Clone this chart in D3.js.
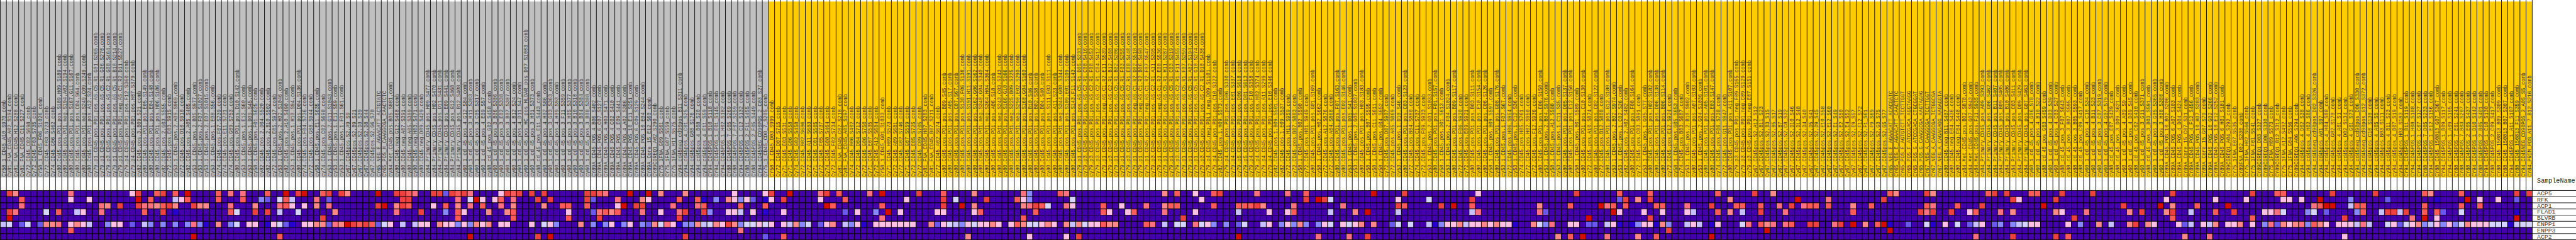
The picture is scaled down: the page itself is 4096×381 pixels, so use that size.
<!DOCTYPE html>
<html>
<head>
<meta charset="utf-8">
<style>
html,body{margin:0;padding:0;background:#fff;overflow:hidden}
svg{display:block}
text{font-family:"Liberation Mono",monospace}
</style>
<script src="https://cdn.jsdelivr.net/npm/d3@7/dist/d3.min.js"></script>
</head>
<body>
<svg id="chart"></svg>
<script>
const geneNames = ["ACP5","RFK","ACP1","FLAD1","BLVRB","ENPP1","ENPP3","ACP2"];
const heatCodes = ["0","1","2","3","4","5","6","7","8","9","a","b"];
const heatColors = ["#4500AD","#2700D1","#6B58EF","#8888FF","#C7C1FF","#D5D5FF","#FFC0E5","#FF8989","#FF7080","#FF5A5A","#EF4040","#D60C00"];
const classNames = ["gray","gold"];
const classColors = ["#C0C0C0","#FFCC00"];
const classSizes = [125,287];
const legendTitle = "SampleName";

const sampleNames = [
"CY58_1_CD45_A10_S970_comb","Cy81_FNA_CD45_A02_S194_comb","Cy81_FNA_CD45_H12_S288_comb","Cy81_FNA_CD45_C11_S227_comb","Cy72_CD45_C02_S698_comb","Cy72_CD45_F03_S735_comb","CY58_1_CD45_F06_S1026_comb","Cy72_CD45_E03_S723_comb","Cy74_CD45_G06_S462_comb",
"cy80.Cd45.pos.PD1.pos.S189.H09.S189.comb","cy80.Cd45.pos.Pd1.neg.S194.A02.S194.comb","cy80.Cd45.pos.PD1.pos.S167.G11.S167.comb","cy80.Cd45.pos.PD1.pos.C04.S64.comb","cy80.Cd45.pos.Pd1.neg.S249.C09.S249.comb","cy80.Cd45.pos.PD1.pos.A12.S24.comb",
"cy79.p1.CD45.pos.PD1.pos.AS.C5.R1.G01.S265.comb","cy79.p1.CD45.pos.PD1.pos.AS.C5.R1.G06.S270.comb","cy79.p3.CD45.pos.PD1.pos.AS.C2.R1.G08.S464.comb","cy79.p1.CD45.pos.PD1.pos.AS.C5.R1.B10.S214.comb","cy79.p1.CD45.pos.PD1.neg.AS.C1.R2.D11.S527.comb",
"cy79.p4.CD45.pos.PD1.pos.F12.S360.comb","cy79.p4.CD45.pos.PD1.pos.H07.S379.comb","cy82.CD45.pos.3.B09.S21.comb","cy80.CD45.pos.PD1.pos.E05.S149.comb","cy80.CD45.pos.PD1.pos.E04.S148.comb","cy80.CD45.pos.PD1.pos.H06.S186.comb","cy82.CD45.pos.2.G03.S555.comb","cy72.CD45.pos.E03.S915.comb","cy53.1.CD45.pos.2.A09.S969.comb","cy72.CD45.pos.D10.S910.comb","cy82.CD45.pos.2.A05.S485.comb",
"cy53.1.CD45.pos.2.B05.S977.comb","cy53.1.CD45.pos.2.F07.S1027.comb","cy53.1.CD45.pos.2.E07.S1015.comb","cy53.1.CD45.pos.1.E08.S56.comb","cy74.CD45.pos.F07.S739.comb","cy74.CD45.pos.E11.S731.comb","cy74.CD45.pos.G09.S753.comb","cy80.CD45.pos.PD1.pos.D10.S142.comb","cy53.1.CD45.pos.1.E12.S60.comb","cy53.1.CD45.pos.1.D09.S45.comb","cy58.1.CD45.pos.F01.S625.comb",
"cy82.CD45.pos.2.D04.S520.comb","cy82.CD45.pos.2.B10.S502.comb","cy72.CD45.pos.E05.S917.comb","cy53.1.CD45.pos.2.H02.S1046.comb","cy82.CD45.pos.2.A10.S490.comb","cy53.1.CD45.pos.1.H10.S94.comb","cy80.CD45.pos.PD1.pos.D04.S136.comb","cy74.CD45.pos.F04.S736.comb","cy72.CD45.pos.G08.S944.comb","cy58.1.CD45.pos.E11.S635.comb","cy74.CD45.pos.C02.S698.comb","cy53.1.CD45.pos.2.G11.S1043.comb","cy53.1.CD45.pos.1.E11.S59.comb","cy53.1.CD45.pos.1.F01.S61.comb",
"Cy67.CD45pos.S2.A9_S9","Cy67.CD45pos.S2.B9_S21","Cy67.CD45pos.S2.D3_S39","Cy67.CD45pos.S2.D8_S44","Cy67.CD45pos.S2.G6_S78","CY65_NEG_E_AGAACATT_ACTGTATC","CY65_POS_H_CAAGGCGA_CAACTCTC","cy84.Met.CD45.pos.B05.S881.comb","cy80.CD45.neg.G12.S468.comb","cy80.CD45.neg.A07.S391.comb","cy80.CD45.neg.A05.S389.comb","cy80.CD45.neg.H03.S471.comb","cy80.CD45.neg.D09.S429.comb",
"cy84_Primary_CD45_pos_H09_S477_comb","cy84_Primary_CD45_pos_H02_S470_comb","cy84_Primary_CD45_pos_D11_S431_comb","cy84_Primary_CD45_pos_E09_S441_comb","cy84_Primary_CD45_pos_G12_S468_comb","cy84_Primary_CD45_pos_B12_S408_comb",
"cy60_1_cd_45_pos_4_G12_S84_comb","cy60_1_cd_45_pos_3_H11_S383_comb","cy60_1_cd_45_pos_3_C05_S317_comb","cy60_1_cd_45_pos_4_E09_S57_comb","cy88_cd_45_pos_G02_S458_comb","cy60_1_cd_45_pos_3_B06_S306_comb","cy60_1_cd_45_pos_3_E02_S338_comb","cy60_1_cd_45_pos_3_B07_S307_comb","cy60_1_cd_45_pos_4_B12_S24_comb","cy60_1_cd_45_pos_4_D11_S47_comb","cy60_1_cd_45_pos_HC_pos_HLDAR_pos_D07_S1003_comb","cy60_1_cd_45_pos_3_H01_S373_comb","cy88_cd_45_pos_E11_S443_comb","cy60_1_cd_45_pos_4_H02_S86_comb","cy60_1_cd_45_pos_3_G03_S363_comb","cy60_1_cd_45_pos_4_H09_S93_comb","cy60_1_cd_45_pos_3_F11_S359_comb","cy60_1_cd_45_pos_3_H05_S377_comb","cy60_1_cd_45_pos_3_B10_S310_comb","cy60_1_cd_45_pos_3_B04_S304_comb","cy60_1_cd_45_pos_3_B08_S308_comb",
"CY89A_CD45_POS_4_B06_S402_comb","CY89A_CD45_POS_6_C07_S127_comb","CY89A_CD45_POS_4_H03_S471_comb","CY89A_CD45_POS_4_C02_S410_comb","CY89A_CD45_POS_4_E09_S441_comb","CY89A_CD45_POS_4_A02_S386_comb","CY89A_CD45_POS_10_E11_S251_comb","CY89A_CD45_POS_6_C09_S129_comb","CY89A_CD45_POS_10_E04_S244_comb","CY89A_Core_15_E12_S60_comb","CY89COREQ1_A02_S290_comb","CY75_1FNA_G09_S561_comb","CY75_1FNA_G07_S559_comb","CY75_1FNA_H11_S575_comb",
"cy94_cd45neg_cd90pos_B11_S311_comb","cy94_cd45pos_4_C01_S25_comb","cy94_cd45pos_G08_S176_comb","cy94_cd45pos_4_B08_S20_comb","cy94_cd45pos_4_E11_S59_comb","CY94_CD45POS_1_B10_S118_comb","CY94_CD45POS_1_E01_S145_comb","CY94_CD45POS_1_H02_S182_comb","CY88_CD45POS_7_G05_S269_comb","CY88_CD45POS_7_F07_S259_comb","CY94_CD45POS_1_C12_S132_comb","CY88_CD45POS_2_F11_S455_comb","CY88_CD45POS_2_F05_S449_comb","CY94_CD45NEG_CD90POS_2_C03_S27_comb","CY75_1_CD45_CD8_7_S205_comb",
"CY58_1_CD45_D03_S999_comb","Cy72_CD45_D07_S715_comb","Cy71_CD45_E03_S531_comb","Cy71_CD45_G06_S558_comb","Cy74_CD45_G02_S458_comb","Cy72_CD45_B02_S686_comb","Cy72_CD45_A11_S683_comb","Cy71_CD45_C01_S505_comb","Cy72_CD45_F05_S737_comb","Cy74_CD45_G08_S464_comb","Cy72_CD45_F02_S734_comb","Cy81_FNA_CD45_C02_S218_comb","Cy81_FNA_CD45_A05_S197_comb","Cy74_CD45_B06_S402_comb","Cy72_CD45_D04_S712_comb","Cy72_CD45_G06_S750_comb","Cy71_CD45_E07_S535_comb","Cy72_CD45_A12_S684_comb","CY58_1_CD45_G01_S1033_comb","Cy71_CD45_H09_S573_comb","Cy72_CD45_A09_S681_comb","Cy72_CD45_G02_S746_comb","Cy71_CD45_G07_S559_comb","Cy72_CD45_E05_S725_comb","Cy72_CD45_C09_S705_comb","Cy81_FNA_CD45_H07_S283_comb","Cy81_FNA_CD45_B07_S211_comb","Cy72_CD45_A02_S674_comb",
"cy80.Cd45.pos.PD1.pos.B09.S45.comb","cy80.Cd45.pos.PD1.pos.A05.S17.comb","cy80.Cd45.pos.PD1.pos.C07.S67.comb","cy80.Cd45.pos.PD1.pos.S138.F06.S138.comb","cy80.Cd45.pos.PD1.pos.S191.H11.S191.comb","cy80.Cd45.pos.PD1.pos.S162.G06.S162.comb","cy80.Cd45.pos.Pd1.neg.S340.G04.S340.comb","cy80.Cd45.pos.Pd1.neg.S364.H04.S364.comb","cy80.Cd45.pos.PD1.pos.A06.S18.comb","cy80.Cd45.pos.Pd1.neg.S243.C03.S243.comb","cy80.Cd45.pos.PD1.pos.S166.G10.S166.comb","cy80.Cd45.pos.Pd1.neg.S225.B09.S225.comb","cy80.Cd45.pos.Pd1.neg.S290.E02.S290.comb","cy80.Cd45.pos.PD1.pos.S160.G04.S160.comb","cy80.Cd45.pos.PD1.pos.B10.S46.comb","cy80.Cd45.pos.PD1.pos.B02.S38.comb","cy80.Cd45.pos.PD1.pos.B04.S40.comb","cy80.Cd45.pos.PD1.pos.S111.E03.S111.comb","cy80.Cd45.pos.PD1.pos.A11.S23.comb","cy80.Cd45.pos.Pd1.neg.S344.G08.S344.comb","cy80.Cd45.pos.PD1.pos.S109.E01.S109.comb","cy80.Cd45.pos.PD1.pos.S143.F11.S143.comb",
"cy79.p1.CD45.pos.PD1.pos.AS.C5.R1.D05.S233.comb","cy79.p3.CD45.pos.PD1.pos.AS.C2.R1.C08.S416.comb","cy79.p3.CD45.pos.PD1.pos.AS.C2.R1.F08.S452.comb","cy79.p3.CD45.pos.PD1.pos.AS.C2.R1.C04.S412.comb","cy79.p1.CD45.pos.PD1.neg.AS.C1.R2.E11.S539.comb","cy79.p3.CD45.pos.PD1.pos.AS.C2.R1.B12.S408.comb","cy79.p1.CD45.pos.PD1.pos.AS.C5.R1.B02.S206.comb","cy79.p1.CD45.pos.PD1.pos.AS.C5.R1.F03.S255.comb","cy79.p3.CD45.pos.PD1.pos.AS.C2.R1.E08.S440.comb","cy79.p1.CD45.pos.PD1.neg.AS.C1.R2.D02.S518.comb","cy79.p1.CD45.pos.PD1.neg.AS.C1.R2.B06.S498.comb","cy79.p1.CD45.pos.PD1.neg.AS.C1.R2.F07.S547.comb","cy79.p3.CD45.pos.PD1.pos.AS.C2.R1.A11.S395.comb","cy79.p1.CD45.pos.PD1.neg.AS.C1.R2.E08.S536.comb","cy79.p1.CD45.pos.PD1.pos.AS.C5.R1.H11.S287.comb","cy79.p1.CD45.pos.PD1.pos.AS.C5.R1.C03.S219.comb","cy79.p3.CD45.pos.PD1.pos.AS.C2.R1.F11.S455.comb","cy79.p1.CD45.pos.PD1.pos.AS.C5.R1.F07.S259.comb","cy79.p1.CD45.pos.PD1.pos.AS.C5.R1.A02.S194.comb","cy79.p1.CD45.pos.PD1.pos.AS.C5.R1.G10.S274.comb","cy79.p3.CD45.pos.PD1.pos.AS.C2.R1.D10.S430.comb",
"cy79.p4.CD45.neg.PDL1.neg.D09.S1101.comb","cy79.p4.CD45.pos.PD1.pos.C10.S322.comb","cy82.CD45.pos.1.H09.S573.comb","cy79.p4.CD45.pos.PD1.pos.D06.S330.comb","cy79.p4.CD45.pos.PD1.pos.E01.S337.comb","cy79.p5.CD45.pos.PD1.pos.D06.S618.comb","cy79.p5.CD45.pos.PD1.pos.D01.S613.comb","cy79.p4.CD45.pos.PD1.pos.F10.S358.comb","cy79.p4.CD45.pos.PD1.pos.H02.S374.comb","cy79.p4.CD45.pos.PD1.pos.A11.S299.comb","cy79.p4.CD45.pos.PD1.pos.E10.S346.comb",
"cy82.CD45.pos.1.B09.S501.comb","cy82.CD45.pos.1.E09.S537.comb","cy72.CD45.pos.H11.S959.comb","cy72.CD45.pos.B07.S883.comb","cy58.1.CD45.pos.B02.S590.comb","cy72.CD45.pos.H01.S949.comb","cy80.CD45.pos.PD1.pos.G01.S169.comb","cy58.1.CD45.pos.H02.S662.comb","cy72.CD45.pos.A12.S876.comb","cy72.CD45.pos.A04.S868.comb","cy80.CD45.pos.PD1.pos.F07.S163.comb","cy80.CD45.pos.PD1.pos.E02.S146.comb","cy53.1.CD45.pos.1.D05.S41.comb","cy53.1.CD45.pos.2.G05.S1037.comb","cy80.CD45.pos.PD1.pos.H03.S183.comb","cy58.1.CD45.pos.B07.S595.comb","cy58.1.CD45.pos.C11.S611.comb","cy58.1.CD45.pos.G04.S652.comb","cy72.CD45.pos.D07.S907.comb","cy72.CD45.pos.A05.S869.comb","cy53.1.CD45.pos.1.D10.S46.comb",
"cy80.CD45.pos.PD1.pos.C03.S123.comb","cy72.CD45.pos.B04.S880.comb","cy74.CD45.pos.C11.S707.comb","cy72.CD45.pos.F09.S933.comb","cy53.1.CD45.pos.2.G01.S1033.comb","cy80.CD45.pos.PD1.pos.F01.S157.comb","cy58.1.CD45.pos.D01.S613.comb","cy53.1.CD45.pos.2.F04.S1024.comb","cy80.CD45.pos.PD1.pos.B09.S117.comb","cy72.CD45.pos.F06.S930.comb","cy72.CD45.pos.E09.S921.comb","cy80.CD45.pos.PD1.pos.B03.S111.comb","cy80.CD45.pos.PD1.pos.E10.S154.comb","cy80.CD45.pos.PD1.pos.C06.S126.comb","cy58.1.CD45.pos.B09.S597.comb","cy80.CD45.pos.PD1.pos.G08.S176.comb","cy53.1.CD45.pos.1.F07.S67.comb","cy72.CD45.pos.H06.S954.comb","cy53.1.CD45.pos.1.C12.S36.comb","cy74.CD45.pos.H05.S761.comb","cy72.CD45.pos.H02.S950.comb","cy72.CD45.pos.F12.S936.comb","cy80.CD45.pos.PD1.pos.E06.S150.comb","cy53.1.CD45.pos.2.B04.S976.comb","cy58.1.CD45.pos.A12.S588.comb","cy53.1.CD45.pos.1.C11.S35.comb","cy80.CD45.pos.PD1.pos.D05.S137.comb","cy80.CD45.pos.PD1.pos.E12.S156.comb","cy58.1.CD45.pos.B01.S589.comb","cy80.CD45.pos.PD1.pos.C10.S130.comb","cy72.CD45.pos.A10.S874.comb","cy80.CD45.pos.PD1.pos.C02.S122.comb","cy72.CD45.pos.B12.S888.comb","cy80.CD45.pos.PD1.pos.G12.S180.comb","cy53.1.CD45.pos.2.B02.S974.comb","cy53.1.CD45.pos.1.C02.S26.comb","cy82.CD45.pos.2.A02.S482.comb",
"cy80.CD45.pos.PD1.pos.F08.S164.comb","cy72.CD45.pos.C03.S891.comb","cy53.1.CD45.pos.1.G05.S77.comb","cy80.CD45.pos.PD1.pos.H02.S182.comb","cy80.CD45.pos.PD1.pos.D06.S138.comb","cy80.CD45.pos.PD1.pos.B06.S114.comb","cy72.CD45.pos.E12.S924.comb","cy58.1.CD45.pos.G05.S653.comb","cy74.CD45.pos.B03.S687.comb","cy53.1.CD45.pos.2.B10.S982.comb","cy80.CD45.pos.PD1.pos.A07.S103.comb","cy53.1.CD45.pos.2.G04.S1036.comb","cy80.CD45.pos.PD1.pos.A05.S101.comb","cy80.CD45.pos.PD1.pos.E03.S147.comb","cy74.CD45.pos.F06.S738.comb","cy72.CD45.pos.G11.S947.comb","cy80.CD45.pos.PD1.pos.A11.S107.comb","cy79.p3.CD45.pos.PD1.neg.F09.S165.comb","cy79.p3.CD45.pos.PD1.neg.C09.S129.comb","cy79.p3.CD45.pos.PD1.neg.E07.S151.comb",
"Cy67.CD45pos.S2.A12_S12","Cy67.CD45pos.S2.B11_S23","Cy67.CD45pos.S2.B3_S15","Cy67.CD45pos.S2.B5_S17","Cy67.CD45pos.S2.B7_S19","Cy67.CD45pos.S2.C8_S32","Cy67.CD45pos.S2.D10_S46","Cy67.CD45pos.S2.D12_S48","Cy67.CD45pos.S2.D4_S40","Cy67.CD45pos.S2.D5_S41","Cy67.CD45pos.S2.D9_S45","Cy67.CD45pos.S2.E10_S58","Cy67.CD45pos.S2.E12_S60","Cy67.CD45pos.S2.E1_S49","Cy67.CD45pos.S2.E2_S50","Cy67.CD45pos.S2.E4_S52","Cy67.CD45pos.S2.E9_S57","Cy67.CD45pos.S2.F12_S72","Cy67.CD45pos.S2.F1_S61","Cy67.CD45pos.S2.F9_S69","Cy67.CD45pos.S2.G3_S75","Cy67.CD45pos.S2.G5_S77",
"CY65_NEG_E_AGAACATT_ACACGATC","CY65_NEG_E_AGAACATT_CAACTCTC","CY65_POS_E_AGTGTCTT_TCCTTGGT","CY65_POS_F_ATCCGACA_AGGTAAGG","CY65_POS_G_ATCCGACA_CTGCGGAT","CY65_POS_G_CAAGGCGA_AAGTAGAG","CY67_NEG_A_CAAGGCGA_TCCTTGGT","CY67_NEG_A_CAAGGCGA_TCTGGCGA","CY67_NEG_A_CAGAGAGG_AAGAGGTA","cy80.CD45.neg.B11.S407.comb","cy80.CD45.neg.E04.S436.comb","cy80.CD45.neg.F04.S448.comb","cy84.Met.CD45.pos.B02.S878.comb","cy84.Met.CD45.pos.G07.S943.comb","cy84.Met.CD45.pos.F11.S935.comb",
"cy84_Primary_CD45_pos_A09_S393_comb","cy84_Primary_CD45_pos_G06_S462_comb","cy84_Primary_CD45_pos_B11_S407_comb","cy84_Primary_CD45_pos_B09_S405_comb","cy84_Primary_CD45_pos_B10_S406_comb","cy84_Primary_CD45_pos_C03_S411_comb","cy84_Primary_CD45_pos_D09_S429_comb","cy84_Primary_CD45_pos_G07_S463_comb",
"cy60_1_cd_45_pos_4_G06_S78_comb","cy60_1_cd_45_pos_4_B10_S22_comb","cy88_cd_45_pos_G03_S459_comb","cy60_1_cd_45_pos_4_D03_S39_comb","cy60_1_cd_45_pos_4_C03_S27_comb","cy88_cd_45_pos_3_F07_S643_comb","cy88_cd_45_pos_3_B07_S595_comb","cy88_cd_45_pos_3_B05_S593_comb","cy88_cd_45_pos_C09_S417_comb","cy60_1_cd_45_pos_4_C10_S34_comb","cy60_1_cd_45_pos_4_B11_S23_comb","cy60_1_cd_45_pos_3_C07_S319_comb","cy60_1_cd_45_pos_4_G07_S79_comb","cy88_cd_45_pos_E07_S439_comb","cy88_cd_45_pos_3_D09_S621_comb","cy60_1_cd_45_pos_4_A09_S9_comb","cy60_1_cd_45_pos_4_D09_S45_comb","cy88_cd_45_pos_C02_S410_comb","cy60_1_cd_45_pos_3_G11_S371_comb","cy88_cd_45_pos_3_B03_S591_comb","cy60_1_cd_45_pos_3_G05_S365_comb","cy60_1_cd_45_pos_3_H08_S380_comb",
"CY89A_CD45_POS_10_B02_S206_comb","CY89A_CD45_POS_6_A07_S103_comb","CY89A_CD45_POS_4_D04_S424_comb","CY89A_Core_15_C07_S31_comb","CY89A_CD45_POS_4_F12_S456_comb","CY89A_CD45_POS_10_H07_S283_comb","CY89A_Core_15_G07_S79_comb","CY89A_CD45_POS_10_G02_S266_comb","CY89A_CD45_POS_10_E12_S252_comb","CY89A_CD45_POS_6_H01_S181_comb","CY89COREQ1_A04_S292_comb","CY75_1FNA_E07_S535_comb","CY89FNA_D02_S230_comb","CY75_1FNA_H02_S566_comb","CY75_1FNA_F01_S541_comb","CY89COREQ1_D03_S327_comb","CY89COREQ1_D06_S330_comb","CY75_1FNA_H09_S573_comb","CY89COREQ1_B12_S312_comb","CY75_1FNA_A12_S492_comb","CY75_1FNA_G04_S556_comb","CY89COREQ1_A06_S294_comb",
"cy94_cd45pos_4_D02_S38_comb","cy94_cd45pos_4_H02_S86_comb","cy94_cd45neg_cd90pos_D02_S326_comb","cy94_cd45pos_A01_S97_comb","cy94_cd45pos_4_H04_S88_comb","cy94_cd45pos_G02_S170_comb","cy94_cd45pos_4_A01_S1_comb","cy94_cd45pos_D02_S134_comb","cy94_cd45pos_4_G01_S73_comb","cy94_cd45neg_cd90pos_D06_S330_comb","cy94_cd45neg_cd90pos_G12_S372_comb","cy94_cd45pos_C10_S130_comb","cy94_cd45pos_4_A05_S5_comb","cy94_cd45pos_B03_S111_comb","cy94_cd45pos_4_B11_S23_comb","cy94_cd45pos_4_B07_S19_comb","cy94_cd45pos_H03_S183_comb",
"CY94_CD45POS_1_B11_S119_comb","CY94_CD45POS_1_H08_S188_comb","CY94_CD45POS_1_C07_S127_comb","CY88_CD45POS_7_D05_S233_comb","CY94_CD45POS_1_E12_S156_comb","CY88_CD45_150813_G07_S367_comb","CY94_CD45POS_1_B09_S117_comb","CY94_CD45POS_1_A09_S105_comb","CY88_CD45POS_7_E01_S241_comb","CY88_CD45POS_7_B03_S207_comb","CY88_CD45POS_2_E05_S437_comb","CY94_CD45POS_1_D10_S142_comb","CY88_CD45POS_2_B05_S401_comb","CY94_CD45POS_1_C10_S130_comb","CY88_CD45POS_2_C09_S417_comb","CY88_CD45_150813_B09_S309_comb","CY88_CD45_150813_B07_S307_comb","CY94_CD45POS_1_A11_S107_comb","CY88_CD45_150813_F11_S359_comb","CY94_CD45NEG_CD90POS_2_A05_S5_comb","CY84_PRIM_POS_A11_7_B12_S216_comb"
];

/* one 8-character string per sample; one code per gene, in geneNames order */
const sampleCells = [
"00000400","a00ab500","70080000","09800200","00000500","00000000","00000200","00050700","00000700",
"00090800","00000000","86000690","00040700","00060600","06000400",
"00000000","00880000","00700300","00000600","00a00600",
"00000000","60000200","aba00000","00890400","09800300","90700000","a09a0300","00a00000","94710300","06000000","b9000300",
"00a0080b","00700300","00700100","00000000","99000700","00000000","80890300","00050500","89000000","00000600","007a0600",
"03000000","920a0100","00000600","05840509","b9900200","04600100","a0050000","b0600600","00000600","08700700","9000a700","a2800200","00070800","a0000700",
"70000b00","00000a00","00000900","00000a00","00000900","b0a00200","00b00500","00000600","a0780000","aaa00400","9a900000","80000400","000a0600",
"00000600","a0600000","a0000700","20930600","a0000600","98799300",
"a0060600","8580030b","0b000700","06900600","00070700","06000000","69800600","a0070600","98799000","a0000000","00000000","a0000600","0a00000a","a0700500","0a00060b","00000300","00900000","00969000","00000000","00000700","aa900000",
"a2020300","9008a100","80090300","00070600","08690100","00b00300","b0000600","00a00000","07a80300","b6000200","00000700","70060500","00000800","00800600",
"0908a100","700a030a","00000300","09800700","019a0400","00030500","03000700","00000600","07060a00","66060700","03940380","06000500","02060500","00000600","61910502",
"a6000600","00000000","0a060609","b0000400","00000700","00000300","00000500","00000000","86000200","a0b00600","00900700","90000000","09020400","00000300","00060600","00000100","80000000","00030600","b0908600","000b0600","00000600","00060600","06000600","00000600","a0000000","00000000","00000700","00060200",
"9aa60600","00000500","05000400","00b00300","00000607","70760500","00090600","0a000600","00000700","00000600","00000000","00000600","09000900","86709700","33800506","00a90500","00900600","00500700","00000600","90000000","80800706","05600400",
"0000070a","00000500","00000600","00000600","00990900","00060700","00000700","00600000","00060000","00090000","00000000","00800900","00000800","00000000","70780400","00900000","90900500","0000a500","00000000","60060800","06000500",
"00000600","90900300","a0000000","00000300","00000000","0094020b","00900500","00900000","80a00000","00700400","00060600",
"00000000","00000300","80060600","00890300","00000700","9a000300","00000000","0b000308","0a000600","05040500","00000000","00800600","00000508","00070600","00000700","000b000a","b0000700","00000000","00000000","00000200","06a40500",
"a0900000","00000500","00000000","00000000","05000400","00000100","00a00300","00000600","00b00600","00000700","00000400","0a940600","60080600","00000700","00000600","00000700","00000600","00000600","00000100","00000000","00000000","00000700","00780500","00020300","00000800","00000007","00000000","00900609","a0000600","0000000b","0000b200","00000200","00b00000","00800408","009b0600","92060100","0a900000",
"00000100","07000307","00060600","9a00a600","00900109","00960700","000003a0","00000000","00000000","00860400","00040600","00000400","00000000","00a0010b","90090600","00000000","07070000","00900000","00940500","00000800",
"a0000000","009a0900","000007b0","70000800","00800000","00080800","00a00900","0b000000","00800000","00900a00","00900a00","00000000","08900000","00000800","00000a00","00000000","00790b00","00000000","00000700","00900000","00000900","0a000b00",
"900001b0","70000000","00000000","00000200","00000000","000a0000","a0980500","708a0100","00000000","00000600","000a0000","00900500","00000000","00060200","00090408",
"00a00600","90000000","a0000200","00080300","a0000000","0a07030a","06000400","00000500",
"90000600","90000600","00b00000","00000000","0a07000a","a0060000","00000609","0000a000","00000300","00080000","a0000000","00000700","00000000","00000400","00000000","00a00000","00070700","00000a00","000a0000","00000700","00000600","00b00000",
"06070000","a07a9000","00000600","00000207","00040400","00900000","00000600","00000408","06090700","00000000","00b00600","000a0600","00000700","06000000","a0009600","00000000","00060300","00060800","90080200","96050700","06000600","00000700",
"06000800","00030300","00850900","0b900700","00b20600","a0b00000","00000600","0000a606","03400600","00930400","00990800","00000400","a0000000","00040000","020a0500","000a0600","00040200",
"000a0500","00008600","00000700","9099b300","70000400","01096600","00020300","00000600","00000300","90950500","0b000700","00000600","06900600","00000600","00000500","06000500","00000500","00000100","a201b400","00000500","a0000500"
];

const W = 5030, H = 468;
const svg = d3.select("#chart")
  .attr("width", 4096).attr("height", 381)
  .attr("viewBox", `0 0 ${W} ${H}`)
  .attr("preserveAspectRatio", "none");

const plotRight = 4944, barTop = 3, barBottom = 346, heatTop = 371, heatBottom = 467;
const lineW = 1.1;
const x = d3.scaleBand().domain(d3.range(sampleNames.length)).range([0, plotRight]);
const y = d3.scaleBand().domain(geneNames).range([heatTop, heatBottom]);
const heatColor = d3.scaleOrdinal().domain(heatCodes).range(heatColors);
const classColor = d3.scaleOrdinal().domain(classNames).range(classColors);
const classOf = i => i < classSizes[0] ? classNames[0] : classNames[1];

// phenotype bar
svg.append("g").selectAll("rect").data(sampleNames).join("rect")
  .attr("x", (d,i) => x(i)).attr("y", barTop)
  .attr("width", x.bandwidth()+0.5).attr("height", barBottom-barTop)
  .attr("fill", (d,i) => classColor(classOf(i)));

// sample labels
svg.append("g").selectAll("text").data(sampleNames).join("text")
  .attr("transform", (d,i) => `translate(${x(i)+10.6},${barBottom-1}) rotate(-90)`)
  .attr("font-size", 10)
  .attr("fill", "#3a3a3a")
  .text(d => d);

// column lines through the bar area
svg.append("g").selectAll("line").data(d3.range(sampleNames.length+1)).join("line")
  .attr("x1", i => (i < sampleNames.length ? x(i) : plotRight)+0.5)
  .attr("x2", i => (i < sampleNames.length ? x(i) : plotRight)+0.5)
  .attr("y1", 0).attr("y2", heatTop)
  .attr("stroke", "#000").attr("stroke-width", lineW);

// heatmap cells
const cells = sampleCells.flatMap((s,i) => geneNames.map((g,r) => ({i, g, code:s[r]})));
svg.append("g").selectAll("rect").data(cells).join("rect")
  .attr("x", d => x(d.i)+0.5).attr("y", d => y(d.g)+0.5)
  .attr("width", x.bandwidth()).attr("height", y.bandwidth())
  .attr("fill", d => heatColor(d.code))
  .attr("stroke", "#000").attr("stroke-width", lineW);

// gene table on the right
svg.append("g").selectAll("line").data(geneNames.concat("end")).join("line")
  .attr("x1", plotRight).attr("x2", W)
  .attr("y1", (d,i) => heatTop + i*y.bandwidth() + 0.5)
  .attr("y2", (d,i) => heatTop + i*y.bandwidth() + 0.5)
  .attr("stroke", "#000").attr("stroke-width", lineW);

svg.append("g").selectAll("text").data(geneNames).join("text")
  .attr("x", plotRight+10).attr("y", d => y(d)+10)
  .attr("font-size", 12).attr("fill", "#3a3a3a")
  .text(d => d);

svg.append("text").attr("x", plotRight+10).attr("y", 356)
  .attr("font-size", 12.4).attr("fill", "#222").text(legendTitle);
</script>
</body>
</html>
